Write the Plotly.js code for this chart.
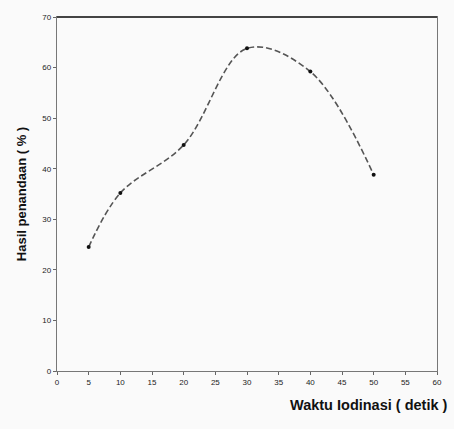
<!DOCTYPE html>
<html><head><meta charset="utf-8">
<script src="https://cdn.plot.ly/plotly-3.0.1.min.js"></script>
<style>html,body{margin:0;padding:0;background:#fafafa;}</style>
</head><body>
<div id="chart" style="width:454px;height:429px;"></div>
<script>
const waktu = [5, 10, 20, 30, 40, 50];
const hasil = [24.5, 35.2, 44.7, 63.8, 59.2, 38.8];
const xTicks = [0, 5, 10, 15, 20, 25, 30, 35, 40, 45, 50, 55, 60];
const yTicks = [0, 10, 20, 30, 40, 50, 60, 70];

Plotly.newPlot('chart', [{
  x: waktu, y: hasil, type: 'scatter', mode: 'lines+markers',
  line: {shape: 'spline', smoothing: 1, color: '#555', width: 1.6, dash: '6px,3px'},
  marker: {color: '#111', size: 4}
}], {
  width: 454, height: 429,
  margin: {l: 57, r: 17, t: 17, b: 58},
  paper_bgcolor: '#fafafa', plot_bgcolor: '#fafafa',
  showlegend: false,
  xaxis: {range: [0, 60], tickvals: xTicks, ticktext: xTicks.map(String),
    showgrid: false, zeroline: false, showline: true, mirror: true,
    linecolor: '#777', linewidth: 1.2, ticks: 'outside', ticklen: 3, tickcolor: '#666',
    tickfont: {family: 'Liberation Sans, Arial', size: 8, color: '#222'}},
  yaxis: {range: [0, 70], tickvals: yTicks, ticktext: yTicks.map(String),
    showgrid: false, zeroline: false, showline: true, mirror: true,
    linecolor: '#777', linewidth: 1.2, ticks: 'outside', ticklen: 3, tickcolor: '#666',
    tickfont: {family: 'Liberation Sans, Arial', size: 8, color: '#222'},
    title: {text: 'Hasil penandaan ( % )', standoff: 12,
      font: {family: 'Liberation Sans, Arial', size: 13, color: '#111', weight: 'bold'}}},
  shapes: [{type: 'line', xref: 'paper', yref: 'paper', x0: 0, x1: 1, y0: 1, y1: 1,
    line: {color: '#444', width: 2}}],
  annotations: [{
    text: '<b>Waktu Iodinasi ( detik )</b>', xref: 'paper', yref: 'paper',
    x: 1.035, y: -0.095, xanchor: 'right', yanchor: 'middle', showarrow: false,
    font: {family: 'Liberation Sans, Arial', size: 14.5, color: '#111'}
  }]
}, {displayModeBar: false, staticPlot: true});
</script>
</body></html>
